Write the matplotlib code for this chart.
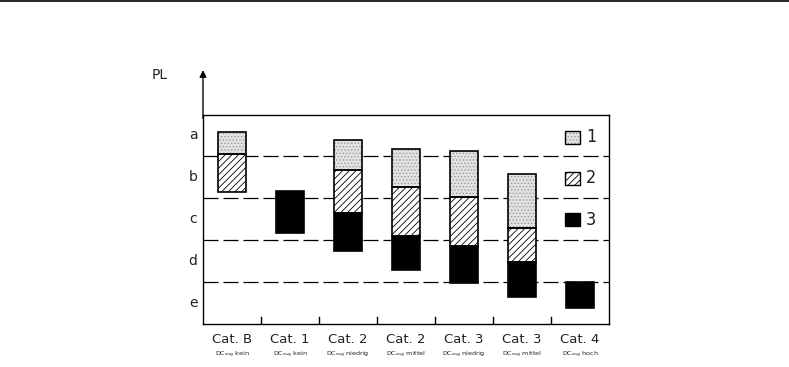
import numpy as np
import matplotlib.pyplot as plt
from matplotlib.lines import Line2D
from matplotlib.patches import Rectangle

categories = ["Cat. B", "Cat. 1", "Cat. 2", "Cat. 2", "Cat. 3", "Cat. 3", "Cat. 4"]
dc_labels = ["kein", "kein", "niedrig", "mittel", "niedrig", "mittel", "hoch"]
pl_levels = ["e", "d", "c", "b", "a"]

nan = np.nan
# segment 1 (dotted), 2 (hatched), 3 (black): bottom / top in PL units
seg1_low = [4.05, nan, 3.67, 3.26, 3.02, 2.29, nan]
seg1_high = [4.57, nan, 4.38, 4.17, 4.12, 3.57, nan]
seg2_low = [3.14, nan, 2.64, 2.10, 1.86, 1.48, nan]
seg2_high = [4.05, nan, 3.67, 3.26, 3.02, 2.29, nan]
seg3_low = [nan, 2.17, 1.74, 1.29, 0.98, 0.64, 0.38]
seg3_high = [nan, 3.17, 2.64, 2.10, 1.86, 1.48, 1.00]
legend_labels = ["1", "2", "3"]

plt.rcParams["hatch.linewidth"] = 0.6
text_color = "#222222"

fig = plt.figure(figsize=(7.89, 3.67), dpi=100)
ax = fig.add_axes([203 / 789, 43 / 367, 406 / 789, 209 / 367])
ax.set_xlim(0, 7)
ax.set_ylim(0, 4.98)

# fill styles; outlines drawn separately in black
fills = [
    dict(facecolor="#e2e2e2", hatch=".....", edgecolor="#9a9a9a", linewidth=0),
    dict(facecolor="white", hatch="/////", edgecolor="black", linewidth=0),
    dict(facecolor="black", edgecolor="black", linewidth=0),
]
segments = [(seg1_low, seg1_high), (seg2_low, seg2_high), (seg3_low, seg3_high)]

# dashed level boundaries
for y in range(1, 5):
    ax.axhline(y, color="black", lw=0.9, dashes=(12, 4), zorder=1)

x = np.arange(len(categories)) + 0.5
width = 0.47
for (low, high), st in zip(segments, fills):
    low = np.array(low)
    high = np.array(high)
    ok = ~np.isnan(low)
    ax.bar(x[ok], high[ok] - low[ok], bottom=low[ok], width=width,
           zorder=3, **st)
    ax.bar(x[ok], high[ok] - low[ok], bottom=low[ok], width=width,
           fill=False, edgecolor="black", linewidth=1.2, zorder=4)

# legend boxes
for i, (lab, st) in enumerate(zip(legend_labels, fills)):
    yc = 4.45 - i * 0.98
    ax.add_patch(Rectangle((6.24, yc - 0.15), 0.26, 0.3, zorder=3, **st))
    ax.add_patch(Rectangle((6.24, yc - 0.15), 0.26, 0.3, fill=False,
                           edgecolor="black", linewidth=1.0, zorder=4))
    ax.text(6.6, yc, lab, fontsize=13, va="center", ha="left",
            color=text_color, fontstretch="condensed")

for s in ax.spines.values():
    s.set_linewidth(1.0)

ax.set_xticks([])
ax.set_yticks([])
# small ticks at column boundaries
for b in range(1, 7):
    ax.plot([b, b], [0, 0.17], color="black", lw=1.0, zorder=2)

# y axis arrow above the box
ax.annotate("", xy=(0, 6.05), xytext=(0, 4.9), annotation_clip=False,
            arrowprops=dict(arrowstyle="-|>", color="black", lw=1.0,
                            mutation_scale=10, shrinkA=0, shrinkB=0))
ax.text(-0.74, 5.93, "PL", fontsize=10, ha="center", va="center",
        color=text_color, clip_on=False)

for i, lev in enumerate(pl_levels):
    ax.text(-0.17, i + 0.5, lev, fontsize=10, ha="center", va="center",
            color=text_color)

for xi, cat, dc in zip(x, categories, dc_labels):
    ax.text(xi, -0.38, cat, fontsize=9.5, ha="center", va="center",
            color=text_color)
    ax.text(xi, -0.74, r"DC$_{\mathrm{avg}}$ " + dc, fontsize=4.6,
            ha="center", va="center", color=text_color)

fig.add_artist(Line2D([0, 1], [1 - 0.8 / 367, 1 - 0.8 / 367],
                      color="black", lw=1.2))

fig.savefig("out.png", dpi=100)
